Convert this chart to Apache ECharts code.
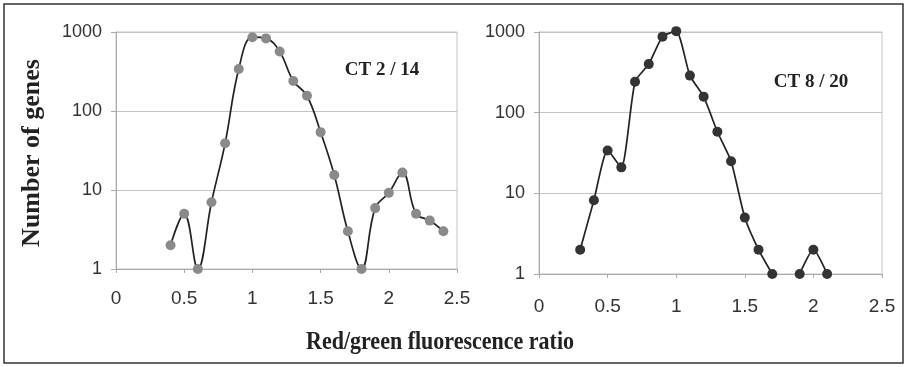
<!DOCTYPE html>
<html>
<head>
<meta charset="utf-8">
<script src="https://cdn.jsdelivr.net/npm/echarts@6/dist/echarts.min.js"></script>
<style>
  html, body { margin: 0; padding: 0; background: #fff; }
  #chart { width: 907px; height: 367px; }
</style>
</head>
<body>
<div id="chart"></div>
<script>
// ratio bins and gene counts
const ratiosLeft = [0.4, 0.5, 0.6, 0.7, 0.8, 0.9, 1.0, 1.1, 1.2, 1.3, 1.4, 1.5, 1.6, 1.7, 1.8, 1.9, 2.0, 2.1, 2.2, 2.3, 2.4];
const genesLeft = [2, 5, 1, 7, 39, 340, 860, 830, 565, 240, 156, 54, 15.5, 3, 1, 5.9, 9.2, 16.6, 5, 4.1, 3];

const ratiosRight = [0.3, 0.4, 0.5, 0.6, 0.7, 0.8, 0.9, 1.0, 1.1, 1.2, 1.3, 1.4, 1.5, 1.6, 1.7, 1.8, 1.9, 2.0, 2.1];
const genesRight = [2, 8.2, 34, 21, 242, 400, 875, 1025, 288, 158, 58, 25, 5, 2, 1, null, 1, 2, 1];

const panelLabels = ["CT 2 / 14", "CT 8 / 20"];
const yTitle = "Number of genes";
const xTitle = "Red/green fluorescence ratio";

const tickFont = "'Liberation Sans', Arial, sans-serif";
const titleFont = "'Liberation Serif', 'Times New Roman', serif";

function pairs(xs, ys) {
  return xs.map((x, i) => [x, ys[i] == null ? "-" : ys[i]]);
}

function xAxisFor(gridIndex, margin) {
  return {
    gridIndex: gridIndex,
    type: "value",
    min: 0,
    max: 2.5,
    interval: 0.5,
    axisLine: { show: true, lineStyle: { color: "#aaa" } },
    axisTick: { show: true, length: 4, lineStyle: { color: "#aaa" } },
    axisLabel: { color: "#333", fontSize: 19, fontFamily: tickFont, margin: margin },
    splitLine: { show: false }
  };
}

function yAxisFor(gridIndex) {
  return {
    gridIndex: gridIndex,
    type: "log",
    logBase: 10,
    min: 1,
    max: 1000,
    axisLine: { show: true, lineStyle: { color: "#aaa" } },
    axisTick: { show: true, length: 5, lineStyle: { color: "#aaa" } },
    axisLabel: {
      color: "#333", fontSize: 18, fontFamily: tickFont, margin: 14,
      formatter: v => String(Math.round(v))
    },
    splitLine: { show: true, lineStyle: { color: "#c4c4c4", width: 1 } },
    minorTick: { show: false }
  };
}

const chart = echarts.init(document.getElementById("chart"));
chart.setOption({
  animation: false,
  backgroundColor: "#fff",
  grid: [
    { left: 116, top: 32, width: 341, height: 237, show: true, borderColor: "#c4c4c4", borderWidth: 1 },
    { left: 539, top: 32, width: 343, height: 242, show: true, borderColor: "#c4c4c4", borderWidth: 1 }
  ],
  xAxis: [xAxisFor(0, 20), xAxisFor(1, 23)],
  yAxis: [yAxisFor(0), yAxisFor(1)],
  series: [
    {
      type: "line",
      xAxisIndex: 0,
      yAxisIndex: 0,
      data: pairs(ratiosLeft, genesLeft),
      smooth: 0.4,
      clip: false,
      symbol: "circle",
      symbolSize: 10,
      itemStyle: { color: "#8a8a8a" },
      lineStyle: { color: "#222", width: 1.7 }
    },
    {
      type: "line",
      xAxisIndex: 1,
      yAxisIndex: 1,
      data: pairs(ratiosRight, genesRight),
      connectNulls: false,
      smooth: 0.2,
      clip: false,
      symbol: "circle",
      symbolSize: 10,
      itemStyle: { color: "#333" },
      lineStyle: { color: "#222", width: 1.7 }
    }
  ],
  graphic: [
    {
      type: "rect",
      shape: { x: 4, y: 4, width: 899, height: 359 },
      style: { fill: "none", stroke: "#333", lineWidth: 1.5 },
      z: 10
    },
    {
      type: "text",
      x: 382, y: 70,
      style: { text: panelLabels[0], font: "bold 19px " + titleFont, fill: "#222", align: "center", verticalAlign: "middle" }
    },
    {
      type: "text",
      x: 811, y: 82,
      style: { text: panelLabels[1], font: "bold 19px " + titleFont, fill: "#222", align: "center", verticalAlign: "middle" }
    },
    {
      type: "text",
      x: 32, y: 153,
      rotation: Math.PI / 2,
      style: { text: yTitle, font: "bold 26px " + titleFont, fill: "#222", align: "center", verticalAlign: "middle" }
    },
    {
      type: "text",
      x: 440, y: 342,
      scaleY: 1.15,
      style: { text: xTitle, font: "bold 22px " + titleFont, fill: "#222", align: "center", verticalAlign: "middle" }
    }
  ]
});
</script>
</body>
</html>
